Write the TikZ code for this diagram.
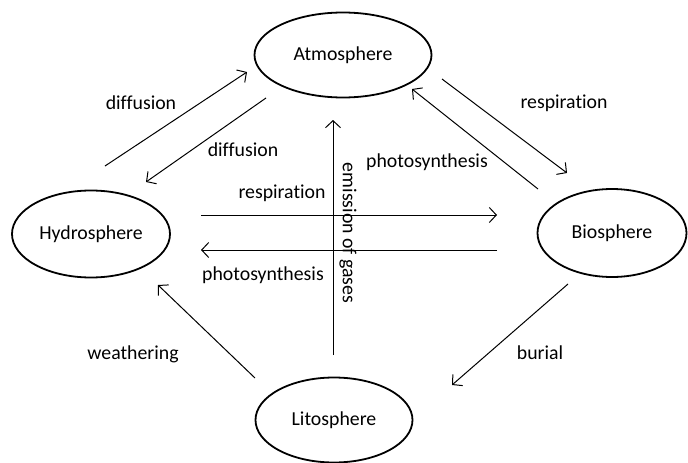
\documentclass[tikz,border=0pt]{standalone}
\usepackage{fontspec}
\setmainfont[Ligatures=NoCommon]{Carlito}
\usetikzlibrary{shapes.geometric,arrows.meta}

\begin{document}
\begin{tikzpicture}[x=1pt,y=-1pt,
  sphere/.style={draw, ellipse, line width=1.8pt, inner sep=0pt, font=\fontsize{19.8}{24}\selectfont},
  flow/.style={line width=1pt, -{Straight Barb[length=7pt,width=15pt]}},
  lbl/.style={font=\fontsize{19.8}{24}\selectfont, inner sep=0pt}]
  \useasboundingbox (0,0) rectangle (688,463);
  % the four spheres
  \node[sphere, minimum width=177pt, minimum height=85pt] (atmo) at (343,55) {Atmosphere};
  \node[sphere, minimum width=158pt, minimum height=87pt] (hydro) at (91,234) {Hydrosphere};
  \node[sphere, minimum width=149pt, minimum height=88pt] (bio) at (612,233) {Biosphere};
  \node[sphere, minimum width=157pt, minimum height=85pt] (lito) at (334,420) {Litosphere};
  % arrow ends
  \coordinate (hydroUp) at (105,166);
  \coordinate (atmoIn) at (247,72);
  \coordinate (atmoOut) at (266,98);
  \coordinate (hydroIn) at (146,182);
  \coordinate (atmoResp) at (442,79);
  \coordinate (bioIn) at (567,173);
  \coordinate (bioOut) at (538,189);
  \coordinate (atmoPhot) at (412,89);
  \coordinate (respL) at (201,215);
  \coordinate (respR) at (497,215);
  \coordinate (photR) at (497,250);
  \coordinate (photL) at (201,250);
  \coordinate (emisB) at (333,355);
  \coordinate (emisT) at (333,120);
  \coordinate (litoOut) at (255,378);
  \coordinate (hydroW) at (158,285);
  \coordinate (bioBur) at (568,284);
  \coordinate (litoIn) at (452,385);
  % fluxes
  \draw[flow] (hydroUp) -- (atmoIn);
  \draw[flow] (atmoOut) -- (hydroIn);
  \draw[flow] (atmoResp) -- (bioIn);
  \draw[flow] (bioOut) -- (atmoPhot);
  \draw[flow] (respL) -- (respR);
  \draw[flow] (photR) -- (photL);
  \draw[flow] (emisB) -- (emisT);
  \draw[flow] (litoOut) -- (hydroW);
  \draw[flow] (bioBur) -- (litoIn);
  % labels
  \node[lbl] (diffA) at (141,103) {diffusion};
  \node[lbl] (diffB) at (243,150) {diffusion};
  \node[lbl] (respA) at (564,103) {respiration};
  \node[lbl] (photA) at (427,162) {photosynthesis};
  \node[lbl] (respB) at (282,193) {respiration};
  \node[lbl] (photB) at (263,275) {photosynthesis};
  \node[lbl, rotate=-90] (emis) at (348,233) {emission of gases};
  \node[lbl] (weath) at (133,354) {weathering};
  \node[lbl] (bur) at (540,353) {burial};
\end{tikzpicture}
\end{document}
